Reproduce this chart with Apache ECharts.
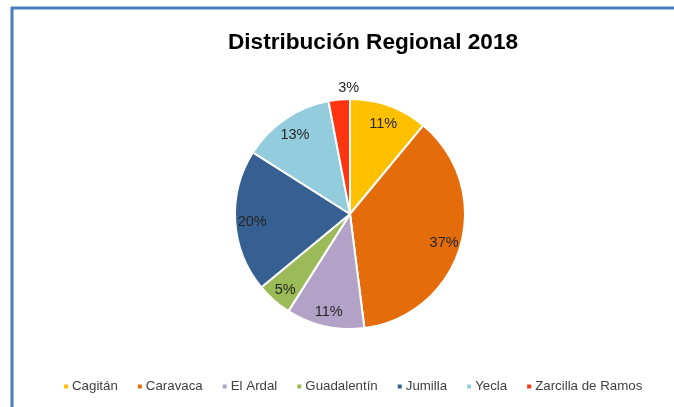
<!DOCTYPE html>
<html><head><meta charset="utf-8">
<script src="https://cdn.jsdelivr.net/npm/echarts@6/dist/echarts.min.js"></script>
<style>html,body{margin:0;padding:0;background:#fff}#c{width:674px;height:407px}</style>
</head><body><div id="c"></div>
<script>
const categories = ['Cagitán','Caravaca','El Ardal','Guadalentín','Jumilla','Yecla','Zarcilla de Ramos'];
const values = [11, 37, 11, 5, 20, 13, 3];
const colors = ['#FFC000','#E46C0A','#B3A2C7','#9BBB59','#365F92','#93CDDD','#FF3410'];
const titleText = 'Distribución Regional 2018';

const chart = echarts.init(document.getElementById('c'), null, {renderer:'canvas'});
const data = categories.map((n,i)=>({name:n, value:values[i], itemStyle:{color:colors[i]}}));
const labelData = categories.map((n,i)=>{
  const d = {name:n, value:values[i]};
  if (values[i] < 4) {
    d.label = {position:'outside', offset:[25,-13]};
    d.labelLine = {show:false, length:0, length2:0};
  }
  return d;
});
chart.setOption({
  animation:false,
  backgroundColor:'#fff',
  graphic:[{type:'rect', shape:{x:12, y:8, width:700, height:440}, style:{fill:'none', stroke:'#4A7EBB', lineWidth:3}, silent:true}],
  title:{text:titleText, left:368, top:26, textAlign:'center',
    textStyle:{fontFamily:'Liberation Sans', fontWeight:'bold', fontSize:22.6, color:'#000'}},
  legend:{data:categories, top:380, left:62, padding:0, itemWidth:6, itemHeight:6, itemGap:18, icon:'rect',
    textStyle:{fontFamily:'Liberation Sans', fontSize:13.3, color:'#404040', padding:[0,0,0,-2]}},
  series:[
    {type:'pie', center:[350,214], radius:[0,115], startAngle:90, clockwise:true,
     data:data, label:{show:false}, labelLine:{show:false},
     itemStyle:{borderColor:'#fff', borderWidth:2}, silent:true},
    {type:'pie', center:[350,216], radius:[74,116], startAngle:90, clockwise:true,
     data:labelData, silent:true, legendHoverLink:false,
     itemStyle:{color:'rgba(0,0,0,0)'},
     label:{show:true, position:'inside', formatter:'{d}%', fontFamily:'Liberation Sans', fontSize:14.5, color:'#262626'},
     labelLine:{show:false}}
  ]
});
</script></body></html>
